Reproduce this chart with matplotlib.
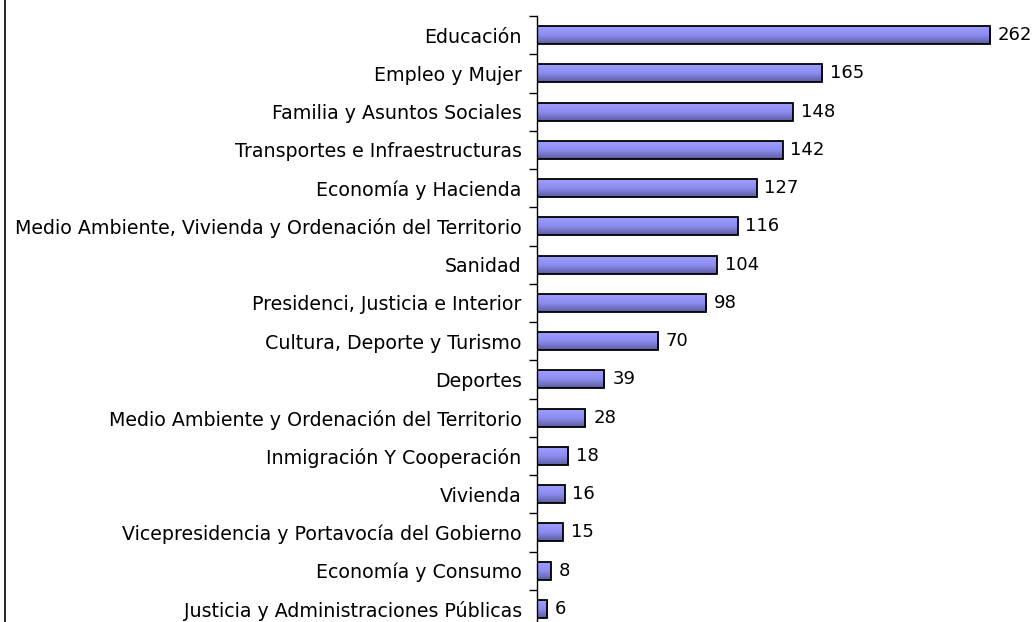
import numpy as np
import matplotlib
matplotlib.use("Agg")
import matplotlib.pyplot as plt
from matplotlib.colors import LinearSegmentedColormap
from matplotlib.lines import Line2D

categorias = [
    "Educación",
    "Empleo y Mujer",
    "Familia y Asuntos Sociales",
    "Transportes e Infraestructuras",
    "Economía y Hacienda",
    "Medio Ambiente, Vivienda y Ordenación del Territorio",
    "Sanidad",
    "Presidenci, Justicia e Interior",
    "Cultura, Deporte y Turismo",
    "Deportes",
    "Medio Ambiente y Ordenación del Territorio",
    "Inmigración Y Cooperación",
    "Vivienda",
    "Vicepresidencia y Portavocía del Gobierno",
    "Economía y Consumo",
    "Justicia y Administraciones Públicas",
]
valores = [262, 165, 148, 142, 127, 116, 104, 98, 70, 39, 28, 18, 16, 15, 8, 6]

plt.rcParams["font.family"] = "DejaVu Sans"

fig = plt.figure(figsize=(10.35, 6.22), dpi=100)
ax = fig.add_axes([537 / 1035, -6 / 622, 498 / 1035, 612 / 622])

n = len(categorias)
pos = np.arange(n)[::-1]  # primera categoria arriba
alto = 0.47

# degradado vertical de las barras
cmap = LinearSegmentedColormap.from_list("barra", ["#5c5c9e", "#8c8cf0", "#9e9eff"])
grad = np.linspace(0, 1, 64).reshape(-1, 1)

for y, v in zip(pos, valores):
    ax.imshow(grad, cmap=cmap, aspect="auto", origin="lower",
              extent=[0, v, y - alto / 2, y + alto / 2], zorder=2)
    ax.barh(y, v, height=alto, facecolor="none", edgecolor="black",
            linewidth=1.3, zorder=3)
    ax.text(v + 4.5, y, str(v), va="center", ha="left", fontsize=13)

ax.set_xlim(0, 288)
ax.set_ylim(-0.5, n - 0.5)

ax.set_yticks(pos)
ax.set_yticklabels(categorias, fontsize=13.7)
ax.tick_params(axis="y", which="major", length=0, pad=11)
ax.set_yticks(np.arange(n + 1) - 0.5, minor=True)
ax.tick_params(axis="y", which="minor", length=6, direction="out", width=1)
ax.set_xticks([])

for lado in ["top", "right", "bottom"]:
    ax.spines[lado].set_visible(False)
ax.spines["left"].set_linewidth(1)

# borde izquierdo del grafico
fig.add_artist(Line2D([4.5 / 1035, 4.5 / 1035], [0, 1], color="black", linewidth=1.2))

fig.savefig("out.png", dpi=100)
